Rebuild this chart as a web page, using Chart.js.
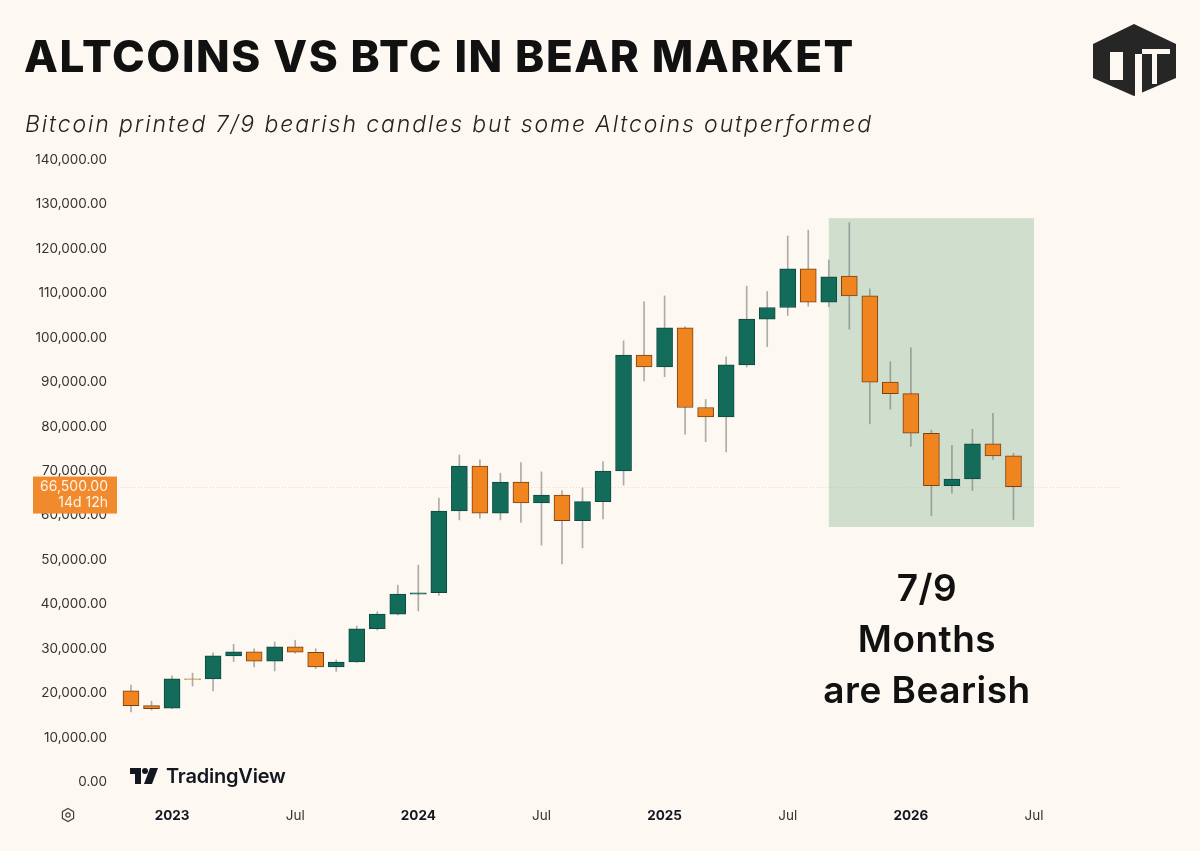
<!DOCTYPE html>
<html>
<head>
<meta charset="utf-8">
<script src="https://cdn.jsdelivr.net/npm/chart.js@4.4.1/dist/chart.umd.min.js"></script>
<style>
html, body { margin: 0; padding: 0; background: #fdf9f2; }
body { width: 1200px; height: 851px; position: relative; overflow: hidden; font-family: Inter, "Noto Sans", sans-serif; }
#wrap { position: absolute; left: 0; top: 0; width: 1200px; height: 851px; }
.title { position: absolute; left: 24px; top: 29px; font-size: 44px; font-weight: 800; color: #111; white-space: nowrap; letter-spacing: 1.6px; }
.sub { position: absolute; left: 25px; top: 110px; font-size: 23px; font-style: italic; font-weight: 300; color: #222; white-space: nowrap; letter-spacing: 1.9px; }
.note { position: absolute; left: 797px; top: 562px; width: 260px; text-align: center; font-size: 37px; font-weight: 600; line-height: 51px; color: #111; letter-spacing: 0.5px; }
.tv { position: absolute; left: 130px; top: 763px; height: 26px; display: flex; align-items: center; }
.tv span { font-size: 20px; font-weight: 600; color: #131722; margin-left: 8px; letter-spacing: -0.2px; }
.gear { position: absolute; left: 60px; top: 807px; }
.logo { position: absolute; left: 1090px; top: 22px; }
</style>
</head>
<body>
<div id="wrap"><canvas id="chart"></canvas></div>
<div class="title">ALTCOINS VS BTC IN BEAR MARKET</div>
<div class="sub">Bitcoin printed 7/9 bearish candles but some Altcoins outperformed</div>
<div class="note">7/9<br>Months<br>are Bearish</div>
<div class="tv">
  <svg width="28" height="16" viewBox="0 0 28 16">
    <path d="M0 0 H11 V16 H5 V6 H0 Z" fill="#131722"/>
    <circle cx="15" cy="3" r="3" fill="#131722"/>
    <path d="M20 0 H28 L22 16 H14 Z" fill="#131722"/>
  </svg>
  <span>TradingView</span>
</div>
<svg class="gear" width="16" height="16" viewBox="0 0 16 16">
  <path d="M8 1.5 L13.6 4.7 V11.3 L8 14.5 L2.4 11.3 V4.7 Z" fill="none" stroke="#444" stroke-width="1.2"/>
  <circle cx="8" cy="8" r="2.2" fill="none" stroke="#444" stroke-width="1.2"/>
</svg>
<svg class="logo" width="90" height="76" viewBox="0 0 90 76">
  <path d="M44 2 L86 22 V56 L44 74 L3 56 V22 Z" fill="#262626"/>
  <path d="M20 30 H33 V58 H20 Z" fill="#fdf9f2"/>
  <path d="M45 32 H52 V76 H45 Z" fill="#fdf9f2"/>
  <path d="M52 27 H80 V32 H52 Z" fill="#fdf9f2"/>
  <path d="M62 32 H67 V62 H62 Z" fill="#fdf9f2"/>
</svg>
<script>
// monthly BTC candles, Nov 2022 .. Jun 2026
const months = ["Nov 2022","Dec 2022","Jan 2023","Feb 2023","Mar 2023","Apr 2023","May 2023","Jun 2023","Jul 2023","Aug 2023","Sep 2023","Oct 2023","Nov 2023","Dec 2023",
  "Jan 2024","Feb 2024","Mar 2024","Apr 2024","May 2024","Jun 2024","Jul 2024","Aug 2024","Sep 2024","Oct 2024","Nov 2024","Dec 2024",
  "Jan 2025","Feb 2025","Mar 2025","Apr 2025","May 2025","Jun 2025","Jul 2025","Aug 2025","Sep 2025","Oct 2025","Nov 2025","Dec 2025",
  "Jan 2026","Feb 2026","Mar 2026","Apr 2026","May 2026","Jun 2026"];
const opens  = [20500,17200,16600,23200,23200,28400,29300,27200,30400,29200,25900,27000,34500,37800,
  42300,42600,61000,71100,60500,67500,62800,64600,58800,63100,70000,96100,
  93400,102200,84300,82200,93900,104200,106800,115500,108000,113900,109400,90000,
  87400,78500,66700,68200,76100,73400];
const highs  = [21800,18200,23900,24500,29100,31000,30000,31500,31900,30000,27500,35100,38300,44300,
  48800,63900,73600,72500,69500,71900,69800,65600,66200,72100,99300,108100,
  109400,102500,86100,95700,111600,110400,122900,124200,117500,125900,111000,94600,
  97700,79200,75800,79400,83000,74000];
const lows   = [15800,16200,16500,21600,20500,27100,25900,25000,29000,25500,24900,26900,34200,37600,
  38500,42000,59000,59400,59000,58400,53300,49100,52700,59200,66800,90300,
  91200,78300,76600,74300,93400,98000,105000,107100,107000,101900,80600,83900,
  75600,59900,65000,65600,72600,59100];
const closes = [17200,16500,23200,23100,28400,29300,27200,30400,29200,25900,27000,34500,37800,42300,
  42600,61000,71100,60500,67500,62800,64600,58800,63100,70000,96100,93400,
  102200,84300,82200,93900,104200,106800,115500,108000,113700,109400,90000,87400,
  78500,66700,68200,76100,73400,66500];

const yTicks = [0, 140000, 10000];              // min, max, step
const xTickIdx  = [2, 8, 14, 20, 26, 32, 38, 44];
const xTickText = ["2023", "Jul", "2024", "Jul", "2025", "Jul", "2026", "Jul"];

const lastPrice = 66500;
const lastTimer = "14d 12h";
// highlighted bear period: Sep 2025 .. Jul 2026
const boxFrom = 34, boxTo = 44, boxLow = 57400, boxHigh = 126900;

const green = "#136b5a", orange = "#f0841e";
const up = closes.map((c, i) => c >= opens[i]);

const fmt = v => v.toLocaleString("en-US", { minimumFractionDigits: 2, maximumFractionDigits: 2 });

const overlay = {
  id: "overlay",
  beforeDatasetsDraw(chart) {
    const { ctx, chartArea: a, scales: { x, y } } = chart;
    ctx.save();
    ctx.fillStyle = "rgba(200,217,200,0.85)";
    const x0 = x.getPixelForValue(boxFrom), x1 = x.getPixelForValue(boxTo);
    const y0 = y.getPixelForValue(boxHigh), y1 = y.getPixelForValue(boxLow);
    ctx.fillRect(x0, y0, x1 - x0, y1 - y0);
    const py = Math.round(y.getPixelForValue(lastPrice)) + 0.5;
    ctx.strokeStyle = "rgba(230,160,110,0.35)";
    ctx.setLineDash([1, 2]);
    ctx.lineWidth = 1;
    ctx.beginPath();
    ctx.moveTo(a.left, py);
    ctx.lineTo(a.right, py);
    ctx.stroke();
    ctx.restore();
  },
  afterDraw(chart) {
    const { ctx, scales: { y } } = chart;
    const py = y.getPixelForValue(lastPrice);
    ctx.save();
    ctx.fillStyle = "#f08a2c";
    ctx.fillRect(33, py - 10, 84, 37);
    ctx.fillStyle = "#fff4e8";
    ctx.font = "14px Inter, 'Noto Sans', sans-serif";
    ctx.textAlign = "right";
    ctx.textBaseline = "middle";
    ctx.fillText(fmt(lastPrice), 108, py);
    ctx.fillText(lastTimer, 108, py + 16);
    ctx.restore();
  }
};

new Chart(document.getElementById("chart"), {
  type: "bar",
  data: {
    datasets: [
      {
        label: "wick",
        data: months.map((m, i) => ({ x: i, y: [lows[i], highs[i]] })),
        backgroundColor: "rgba(110,110,110,0.55)",
        barThickness: 1,
        grouped: false,
        order: 2
      },
      {
        label: "BTC",
        data: months.map((m, i) => ({ x: i, y: [opens[i], closes[i]] })),
        backgroundColor: up.map(u => u ? green : orange),
        borderColor: up.map(u => u ? "#0d4a3e" : "#7a4214"),
        borderWidth: 1,
        borderSkipped: false,
        barThickness: 16,
        grouped: false,
        order: 1
      }
    ]
  },
  options: {
    responsive: true,
    maintainAspectRatio: false,
    animation: false,
    layout: { padding: { top: 160, left: 0, right: 80, bottom: 0 } },
    plugins: { legend: { display: false }, tooltip: { enabled: false } },
    scales: {
      x: {
        type: "linear",
        min: -0.536,
        max: 48.19,
        offset: false,
        grid: { display: false, offset: false },
        border: { display: false },
        afterFit: s => { s.height = 69; },
        afterBuildTicks: s => { s.ticks = xTickIdx.map(v => ({ value: v })); },
        ticks: {
          autoSkip: false,
          maxRotation: 0,
          padding: 18,
          callback: v => xTickText[xTickIdx.indexOf(v)],
          color: c => /^\d/.test(xTickText[c.index] || "") ? "#131722" : "#333",
          font: c => ({ family: "Inter, 'Noto Sans', sans-serif", size: 13.5, weight: /^\d/.test(xTickText[c.index] || "") ? "bold" : "normal" })
        }
      },
      y: {
        min: yTicks[0],
        max: yTicks[1],
        grid: { display: false, drawTicks: false },
        border: { display: false },
        afterFit: s => { s.width = 120; },
        ticks: {
          stepSize: yTicks[2],
          padding: 13,
          color: "#333",
          font: { family: "Inter, 'Noto Sans', sans-serif", size: 13.5 },
          callback: v => fmt(v)
        }
      }
    }
  },
  plugins: [overlay]
});
</script>
</body>
</html>
